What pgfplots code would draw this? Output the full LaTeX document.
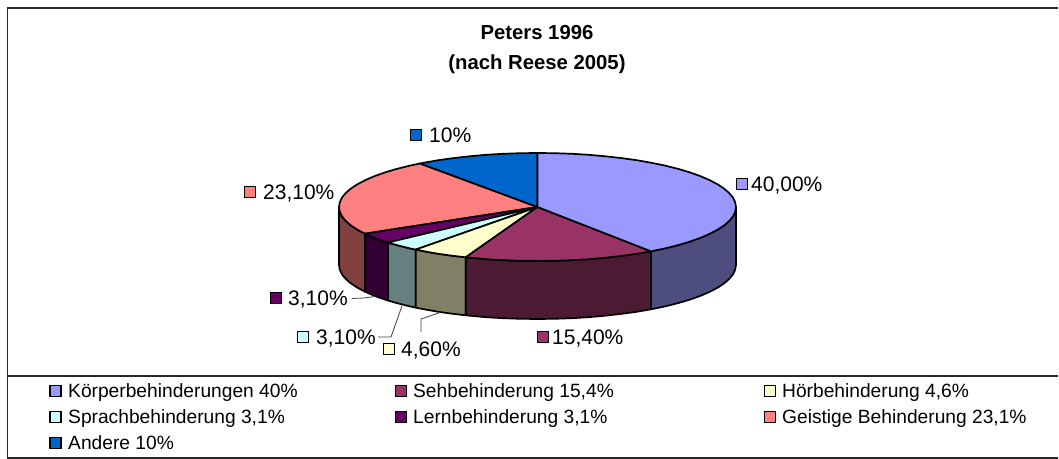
\documentclass[border=0pt]{standalone}
\usepackage{pgfplots}
\pgfplotsset{compat=1.18}
\usepackage{fontspec}
\setmainfont{Liberation Sans}
\definecolor{c1}{HTML}{9999FF}\definecolor{s1}{HTML}{4D4D80}
\definecolor{c2}{HTML}{993366}\definecolor{s2}{HTML}{4D1A33}
\definecolor{c3}{HTML}{FFFFCC}\definecolor{s3}{HTML}{808066}
\definecolor{c4}{HTML}{CCFFFF}\definecolor{s4}{HTML}{668080}
\definecolor{c5}{HTML}{660066}\definecolor{s5}{HTML}{330033}
\definecolor{c6}{HTML}{FF8080}\definecolor{s6}{HTML}{804040}
\definecolor{c7}{HTML}{0066CC}
\pgfplotsset{
  pie/.style={draw=black,line width=1.7pt,line join=round,no marks},
  box/.style={only marks,mark=square*,mark size=5.5pt,mark options={draw=black,line width=1.7pt,fill=#1}},
  lead/.style={draw=black!75,line width=0.8pt,no marks},
}
\newcommand{\lab}[3]{\node[anchor=base west,inner sep=0pt,font=\fontsize{#3}{#3}\selectfont] at (axis cs:#1) {#2};}
\begin{document}
\begin{tikzpicture}
\begin{axis}[
  scale only axis,width=1059pt,height=459pt,
  xmin=0,xmax=1059,ymin=0,ymax=459,y dir=reverse,
  axis lines=none,clip=false,
]
% page extent
\addplot[draw=white,line width=0pt,no marks] coordinates {(0,0)(1059,0)(1059,459)(0,459)} -- cycle;
% frame
\addplot[draw=black!85,line width=1.1pt,no marks] coordinates {(7.5,376) (7.5,8) (1058.5,8)};
\addplot[draw=black!85,line width=1.1pt,no marks] coordinates {(7.5,376) (7.5,458) (1058.5,458)};
\addplot[draw=black!85,line width=1.1pt,no marks] coordinates {(7.5,376) (1058.5,376)};
% side faces
\addplot[pie,fill=s6] coordinates {(365,233.7)(357.6,229.8)(351,225.5)(345.8,221)(342,216.4)(339.8,211.7)(339,207)(339,265)(339.8,269.7)(342,274.4)(345.8,279)(351,283.5)(357.6,287.8)(365,291.7)} -- cycle;
\addplot[pie,fill=s5] coordinates {(388,242.5)(385.4,241.7)(374.9,238)(365,233.7)(365,291.7)(374.9,296)(385.4,299.7)(388,300.5)} -- cycle;
\addplot[pie,fill=s4] coordinates {(415.7,249.6)(409.9,248.4)(397.1,245.2)(388,242.5)(388,300.5)(397.1,303.2)(409.9,306.4)(415.7,307.6)} -- cycle;
\addplot[pie,fill=s3] coordinates {(465.7,257.3)(453.6,255.9)(438.2,253.8)(423.6,251.2)(415.7,249.6)(415.7,307.6)(423.6,309.2)(438.2,311.8)(453.6,313.9)(465.7,315.3)} -- cycle;
\addplot[pie,fill=s2] coordinates {(651,251.3)(636.8,253.8)(621.4,255.9)(605.4,257.7)(588.9,259.2)(572,260.2)(554.8,260.8)(537.5,261)(520.2,260.8)(503,260.2)(486.1,259.2)(469.6,257.7)(465.7,257.3)(465.7,315.3)(469.6,315.7)(486.1,317.2)(503,318.2)(520.2,318.8)(537.5,319)(554.8,318.8)(572,318.2)(588.9,317.2)(605.4,315.7)(621.4,313.9)(636.8,311.8)(651,309.3)} -- cycle;
\addplot[pie,fill=s1] coordinates {(736,207)(735.2,211.7)(733,216.4)(729.2,221)(724,225.5)(717.4,229.8)(709.4,234)(700.1,238)(689.6,241.7)(677.9,245.2)(665.1,248.4)(651,251.3)(651,309.3)(665.1,306.4)(677.9,303.2)(689.6,299.7)(700.1,296)(709.4,292)(717.4,287.8)(724,283.5)(729.2,279)(733,274.4)(735.2,269.7)(736,265)} -- cycle;
% top wedges
\addplot[pie,fill=c6] coordinates {(537.5,207)(365,233.7)(357.6,229.8)(351,225.5)(345.8,221)(342,216.4)(339.8,211.7)(339,207)(339.8,202.3)(342,197.6)(345.8,193)(351,188.5)(357.6,184.2)(365.6,180)(374.9,176)(385.4,172.3)(397.1,168.8)(409.9,165.6)(420,163.5)} -- cycle;
\addplot[pie,fill=c7] coordinates {(537.5,207)(420,163.5)(423.6,162.8)(438.2,160.2)(453.6,158.1)(469.6,156.3)(486.1,154.8)(503,153.8)(520.2,153.2)(537.5,153)} -- cycle;
\addplot[pie,fill=c5] coordinates {(537.5,207)(388,242.5)(385.4,241.7)(374.9,238)(365,233.7)} -- cycle;
\addplot[pie,fill=c4] coordinates {(537.5,207)(415.7,249.6)(409.9,248.4)(397.1,245.2)(388,242.5)} -- cycle;
\addplot[pie,fill=c3] coordinates {(537.5,207)(465.7,257.3)(453.6,255.9)(438.2,253.8)(423.6,251.2)(415.7,249.6)} -- cycle;
\addplot[pie,fill=c2] coordinates {(537.5,207)(651,251.3)(636.8,253.8)(621.4,255.9)(605.4,257.7)(588.9,259.2)(572,260.2)(554.8,260.8)(537.5,261)(520.2,260.8)(503,260.2)(486.1,259.2)(469.6,257.7)(465.7,257.3)} -- cycle;
\addplot[pie,fill=c1] coordinates {(537.5,207)(537.5,153)(554.8,153.2)(572,153.8)(588.9,154.8)(605.4,156.3)(621.4,158.1)(636.8,160.2)(651.4,162.8)(665.1,165.6)(677.9,168.8)(689.6,172.3)(700.1,176)(709.4,180)(717.4,184.2)(724,188.5)(729.2,193)(733,197.6)(735.2,202.3)(736,207)(735.2,211.7)(733,216.4)(729.2,221)(724,225.5)(717.4,229.8)(709.4,234)(700.1,238)(689.6,241.7)(677.9,245.2)(665.1,248.4)(651,251.3)} -- cycle;
% leaders
\addplot[lead] coordinates {(352,298.5)(364,298)(375,296.5)};
\addplot[lead] coordinates {(378,337)(391,337)(402,306)};
\addplot[lead] coordinates {(421,332)(421,319)(440,312.5)};
% data label boxes
\addplot[box=c1] coordinates {(742,184)};
\addplot[box=c2] coordinates {(543,337)};
\addplot[box=c3] coordinates {(389,349)};
\addplot[box=c4] coordinates {(303,337)};
\addplot[box=c5] coordinates {(276,298)};
\addplot[box=c6] coordinates {(250,192)};
\addplot[box=c7] coordinates {(416,135)};
\lab{751,191.5}{40,00\%}{21}
\lab{552,344.5}{15,40\%}{21}
\lab{401,356.5}{4,60\%}{21}
\lab{316,344.5}{3,10\%}{21}
\lab{288,305.5}{3,10\%}{21}
\lab{263,199.5}{23,10\%}{21}
\lab{429,142.5}{10\%}{21}
% title
\node[align=center,font=\fontsize{20.3}{30}\selectfont\bfseries] at (axis cs:537,50) {Peters 1996\\(nach Reese 2005)};
% legend
\addplot[box=c1] coordinates {(55.5,391)};
\addplot[box=c2] coordinates {(401,391)};
\addplot[box=c3] coordinates {(770,391)};
\addplot[box=c4] coordinates {(55.5,417)};
\addplot[box=c5] coordinates {(401,417)};
\addplot[box=c6] coordinates {(770,417)};
\addplot[box=c7] coordinates {(55.5,443)};
\lab{68,398}{Körperbehinderungen 40\%}{19.2}
\lab{413,398}{Sehbehinderung 15,4\%}{19.2}
\lab{782,398}{Hörbehinderung 4,6\%}{19.2}
\lab{68,424}{Sprachbehinderung 3,1\%}{19.2}
\lab{413,424}{Lernbehinderung 3,1\%}{19.2}
\lab{782,424}{Geistige Behinderung 23,1\%}{19.2}
\lab{68,450}{Andere 10\%}{19.2}
\end{axis}
\end{tikzpicture}
\end{document}
